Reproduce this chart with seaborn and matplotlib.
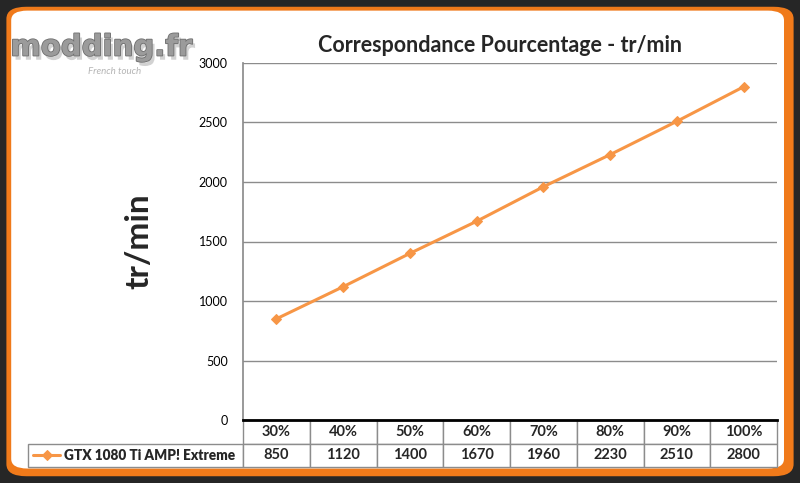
import matplotlib
matplotlib.use("Agg")
import matplotlib.pyplot as plt
import matplotlib.patheffects as pe
from matplotlib.patches import FancyBboxPatch
import seaborn as sns
import pandas as pd

# data
pourcentages = ["30%", "40%", "50%", "60%", "70%", "80%", "90%", "100%"]
trmin = [850, 1120, 1400, 1670, 1960, 2230, 2510, 2800]
serie = "GTX 1080 Ti AMP! Extreme"

df = pd.DataFrame({"pct": pourcentages, "rpm": trmin})

sns.set_theme(style="white")
plt.rcParams["font.family"] = ["Lato", "DejaVu Sans"]

fig = plt.figure(figsize=(8, 4.83), dpi=100)
fig.patch.set_facecolor("#262626")

# orange rounded frame + white card
fig.patches.append(FancyBboxPatch((0.008, 0.014), 0.984, 0.972,
                                  boxstyle="round,pad=0,rounding_size=0.025",
                                  transform=fig.transFigure, fc="#f07a1a", ec="none", zorder=-2))
fig.patches.append(FancyBboxPatch((0.014, 0.03), 0.966, 0.948,
                                  boxstyle="round,pad=0,rounding_size=0.02",
                                  transform=fig.transFigure, fc="white", ec="none", zorder=-1))

ax = fig.add_axes([0.30375, 0.1304, 0.6675, 0.7392])
ax.set_facecolor("white")

orange = "#f79646"
sns.lineplot(data=df, x="pct", y="rpm", ax=ax, color=orange, lw=2.2,
             marker="D", markersize=5.5, markeredgecolor=orange, label=serie, sort=False)

ax.set_ylim(0, 3000)
ax.set_xlim(-0.5, len(pourcentages) - 0.5)
ax.set_yticks(range(0, 3001, 500))
ax.yaxis.grid(True, color="#8c8c8c", lw=1)
ax.set_axisbelow(True)
ax.tick_params(axis="y", length=0, pad=11, labelsize=9, labelcolor="black")
ax.set_xticks([])
ax.set_xlabel("")
ax.set_ylabel("tr/min", fontsize=24, fontweight="bold")
ax.yaxis.set_label_coords(-(243 - 153) / 534, 0.5)
for s in ["top", "right"]:
    ax.spines[s].set_visible(False)
ax.spines["left"].set_color("#8c8c8c")
ax.spines["bottom"].set_color("black")
ax.spines["bottom"].set_linewidth(2)
ax.spines["bottom"].set_zorder(5)

ax.set_title("Correspondance Pourcentage - tr/min", fontsize=15.5, fontweight="bold",
             pad=8, x=(500 - 243) / 534)

# data table under the plot
label_w = (243 - 28) / 534
tab_h = 47 / 357
cells = [[""] + pourcentages, [""] + [str(v) for v in trmin]]
tbl = ax.table(cellText=cells, cellLoc="center",
               colWidths=[label_w] + [1 / 8] * 8,
               bbox=[-label_w, -tab_h, 1 + label_w, tab_h])
tbl.auto_set_font_size(False)
tbl.set_fontsize(10)
for (r, c), cell in tbl.get_celld().items():
    cell.set_edgecolor("#8c8c8c")
    cell.set_linewidth(1)
    cell.set_text_props(fontweight="bold", fontsize=10.5)
tbl[0, 0].visible_edges = ""

# legend sits in the row label cell
leg = ax.legend(loc="center left", bbox_to_anchor=(-label_w - 0.006, -tab_h * 0.76),
                frameon=False, handlelength=2.0, handletextpad=0.3, borderaxespad=0.2,
                prop={"weight": "heavy", "size": 9.8})

# modding.fr logo
fig.text(0.013, 0.885, "modding.fr", fontsize=21, fontweight="bold", color="#9b9b9b",
         family="DejaVu Sans",
         path_effects=[pe.withSimplePatchShadow(offset=(2, -3), shadow_rgbFace="#d2d2d2", alpha=1),
                       pe.withStroke(linewidth=1.2, foreground="#6e6e6e")])
fig.text(0.11, 0.847, "French touch", fontsize=7, style="italic", color="#b5b5b5")

fig.savefig("out.png", dpi=100, facecolor=fig.get_facecolor())
